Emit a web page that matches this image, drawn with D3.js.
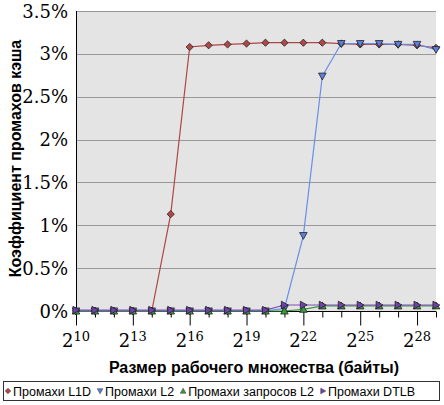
<!DOCTYPE html>
<html><head><meta charset="utf-8">
<script src="https://cdn.jsdelivr.net/npm/d3@7"></script>
<style>body{margin:0;background:#fff}svg{display:block}</style>
</head><body>
<svg id="c" width="444" height="405"></svg>
<script>
const exps = [10,11,12,13,14,15,16,17,18,19,20,21,22,23,24,25,26,27,28,29];
const l1d   = [0,0,0,0,0,1.13,3.08,3.10,3.11,3.12,3.13,3.13,3.13,3.13,3.12,3.11,3.11,3.11,3.10,3.07];
const l2    = [0,0,0,0,0,0,0,0,0,0,0,0.03,0.88,2.74,3.12,3.12,3.12,3.11,3.11,3.05];
const l2req = [0,0,0,0,0,0,0,0,0,0,0,0,0.02,0.06,0.06,0.06,0.06,0.06,0.06,0.06];
const dtlb  = [0.01,0.01,0.01,0.01,0.01,0.01,0.01,0.01,0.01,0.01,0.01,0.07,0.07,0.07,0.07,0.07,0.07,0.07,0.07,0.07];
const seriesNames = ["Промахи L1D","Промахи L2","Промахи запросов L2","Промахи DTLB"];
const yTicks = [0,0.5,1,1.5,2,2.5,3,3.5];
const yTickLabels = ["0%","0.5%","1%","1.5%","2%","2.5%","3%","3.5%"];
const xMajor = [10,13,16,19,22,25,28];
const xTitle = "Размер рабочего множества (байты)";
const yTitle = "Коэффициент промахов кэша";

const series = [
  {name:seriesNames[0], values:l1d,   line:"#b04545", fill:"#b04848", sym:"diamond"},
  {name:seriesNames[1], values:l2,    line:"#6a8ee8", fill:"#5a7fe0", sym:"down"},
  {name:seriesNames[2], values:l2req, line:"#3a9a3a", fill:"#3a9a3a", sym:"up"},
  {name:seriesNames[3], values:dtlb,  line:"#7e4cc0", fill:"#7040b0", sym:"right"}
];

const svg = d3.select("#c");
const L=76, R=436, T=11, B=311;
const x = d3.scaleLinear().domain([10,29]).range([L,R]);
const y = d3.scaleLinear().domain([0,3.5]).range([B,T]);

svg.append("rect").attr("x",L).attr("y",T).attr("width",R-L).attr("height",B-T).attr("fill","#e4e4e4");
svg.append("g").selectAll("line").data(yTicks.filter(d=>d>0)).join("line")
  .attr("x1",L).attr("x2",R).attr("y1",d=>Math.round(y(d))+0.5).attr("y2",d=>Math.round(y(d))+0.5)
  .attr("stroke","#999").attr("stroke-width",1);

// y labels
svg.append("g").selectAll("text").data(yTicks).join("text")
  .attr("x",68).attr("y",d=>y(d)+6.5).attr("text-anchor","end")
  .attr("font-family","DejaVu Serif, serif").attr("font-size",18)
  .text((d,i)=>yTickLabels[i]);

// axes lines
svg.append("line").attr("x1",L+0.5).attr("x2",L+0.5).attr("y1",T).attr("y2",B).attr("stroke","#000");
const xAxis = d3.axisBottom(x).tickValues(exps).tickSize(6).tickFormat("");
const gx = svg.append("g").attr("transform",`translate(0,${B+0.5})`).call(xAxis);
gx.select(".domain").attr("d",`M${L},0H${R}`).attr("stroke","#000");
gx.selectAll(".tick line").attr("y2",d=>xMajor.includes(d)?14:6).attr("stroke","#000");

// x labels 2^n
const xl = svg.append("g").selectAll("text").data(xMajor).join("text")
  .attr("x",d=>x(d)).attr("y",347).attr("text-anchor","middle")
  .attr("font-family","DejaVu Serif, serif").attr("font-size",18);
xl.append("tspan").text("2");
xl.append("tspan").attr("dy",-6).attr("font-size",13).text(d=>d);

// lines & markers
function sym(type, s){
  const h=s;
  if(type==="diamond") return `M0,${-h}L${h},0L0,${h}L${-h},0Z`;
  if(type==="down") return `M${-h},${-h*0.8}L${h},${-h*0.8}L0,${h}Z`;
  if(type==="up") return `M${-h},${h*0.8}L${h},${h*0.8}L0,${-h}Z`;
  return `M${-h*0.8},${-h}L${-h*0.8},${h}L${h},0Z`;
}
const line = d3.line().x((d,i)=>x(exps[i])).y(d=>y(d));
series.forEach(s=>{
  svg.append("path").attr("d",line(s.values)).attr("fill","none").attr("stroke",s.line).attr("stroke-width",1.2);
});
series.forEach(s=>{
  svg.append("g").selectAll("path").data(s.values).join("path")
    .attr("transform",(d,i)=>`translate(${x(exps[i])},${y(d)})`)
    .attr("d",sym(s.sym, s.sym==="diamond"?3.6:3.8))
    .attr("fill",s.fill).attr("stroke","#222").attr("stroke-width",0.8);
});

// titles
svg.append("text").attr("x",254).attr("y",373).attr("text-anchor","middle")
  .attr("font-family","Liberation Sans, Arial, sans-serif").attr("font-weight","bold").attr("font-size",16)
  .text(xTitle);
svg.append("text").attr("transform","translate(21,158.5) rotate(-90)").attr("text-anchor","middle")
  .attr("font-family","Liberation Sans, Arial, sans-serif").attr("font-weight","bold").attr("font-size",16)
  .text(yTitle);

// legend
svg.append("rect").attr("x",3.5).attr("y",381.5).attr("width",436).attr("height",19)
  .attr("fill","#fff").attr("stroke","#333");
let lx = 8;
series.forEach(s=>{
  const g = svg.append("g");
  g.append("path").attr("transform",`translate(${lx},391)`).attr("d",sym(s.sym,2.8))
    .attr("fill",s.fill).attr("stroke","#444").attr("stroke-width",0.6);
  const t = g.append("text").attr("x",lx+5).attr("y",395.5)
    .attr("font-family","Liberation Sans, Arial, sans-serif").attr("font-size",12.5).text(s.name);
  lx += 5 + t.node().getComputedTextLength() + 9;
});
</script>
</body></html>
